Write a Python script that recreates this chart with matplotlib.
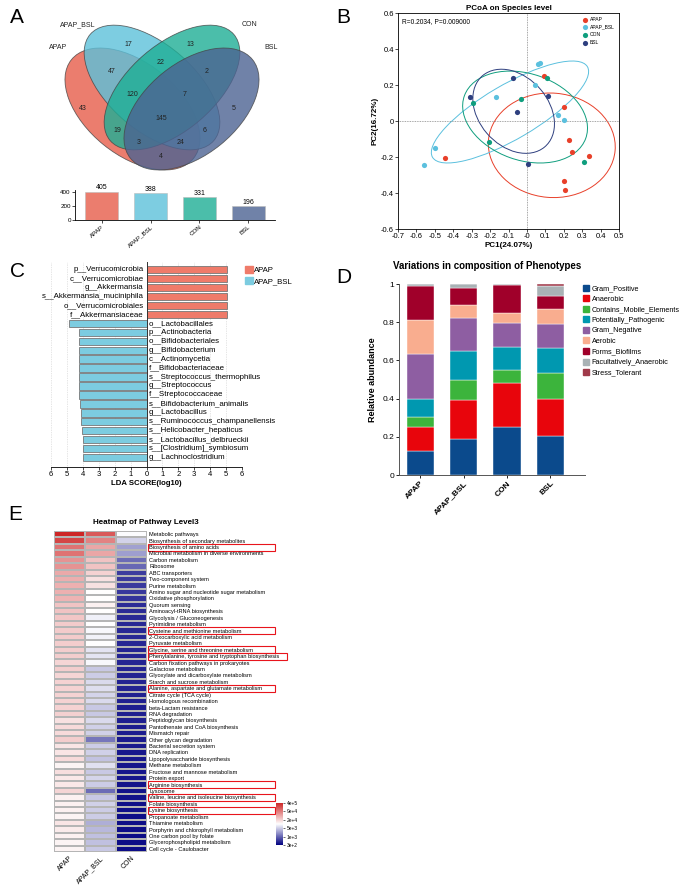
import matplotlib
matplotlib.use("Agg")
import matplotlib.pyplot as plt
import matplotlib.transforms as mtransforms
import numpy as np
from matplotlib.colors import LinearSegmentedColormap, LogNorm
from matplotlib.patches import Ellipse, Patch, Rectangle

plt.rcParams["font.family"] = ["Liberation Sans", "DejaVu Sans"]

W, H = 685, 885

# ---------------- A: Venn ----------------
venn_sets = ["APAP", "APAP_BSL", "CON", "BSL"]
venn_colors = ["#e65d4a", "#5cc1da", "#1eae95", "#4c6392"]
venn_totals = [405, 388, 331, 196]
venn_counts = [17, 13, 22, 47, 2, 120, 7, 43, 145, 5, 19, 6, 3, 24, 4]

# ---------------- B: PCoA ----------------
pcoa_groups = ["APAP", "APAP_BSL", "CON", "BSL"]
pcoa_colors = ["#e8402a", "#5bc0de", "#0f9e7e", "#2e3f7f"]
pc1_apap = [0.092, 0.199, 0.230, 0.246, 0.337, 0.199, 0.206, -0.445]
pc2_apap = [0.252, 0.076, -0.104, -0.170, -0.193, -0.333, -0.381, -0.207]
pc1_apap_bsl = [0.060, 0.069, 0.043, -0.167, 0.168, 0.199, -0.500, -0.561]
pc2_apap_bsl = [0.315, 0.320, 0.200, 0.131, 0.033, 0.006, -0.152, -0.244]
pc1_con = [0.110, -0.034, -0.293, -0.208, 0.311]
pc2_con = [0.241, 0.124, 0.100, -0.117, -0.228]
pc1_bsl = [-0.078, -0.308, 0.114, -0.056, 0.005]
pc2_bsl = [0.241, 0.135, 0.139, 0.050, -0.241]
ell_cx = [0.135, -0.092, -0.010, -0.072]
ell_cy = [-0.135, 0.050, 0.022, 0.054]
ell_w = [0.69, 0.98, 0.70, 0.52]
ell_h = [0.58, 0.30, 0.48, 0.38]
ell_angle = [-5, 31, -20, -50]

# ---------------- C: LEfSe ----------------
lda_taxa = ["p__Verrucomicrobia", "c__Verrucomicrobiae", "g__Akkermansia",
            "s__Akkermansia_muciniphila", "o__Verrucomicrobiales", "f__Akkermansiaceae",
            "o__Lactobacillales", "p__Actinobacteria", "o__Bifidobacteriales",
            "g__Bifidobacterium", "c__Actinomycetia", "f__Bifidobacteriaceae",
            "s__Streptococcus_thermophilus", "g__Streptococcus", "f__Streptococcaceae",
            "s__Bifidobacterium_animalis", "g__Lactobacillus",
            "s__Ruminococcus_champanellensis", "s__Helicobacter_hepaticus",
            "s__Lactobacillus_delbrueckii", "s__[Clostridium]_symbiosum",
            "g__Lachnoclostridium"]
lda_scores = [5.07, 5.07, 5.07, 5.07, 5.07, 5.07,
              -4.86, -4.27, -4.27, -4.27, -4.27, -4.27, -4.27, -4.23, -4.23,
              -4.15, -4.13, -4.11, -4.06, -4.02, -4.00, -4.00]

# ---------------- D: phenotypes ----------------
phen_groups = ["APAP", "APAP_BSL", "CON", "BSL"]
phen_names = ["Gram_Positive", "Anaerobic", "Contains_Mobile_Elements",
              "Potentially_Pathogenic", "Gram_Negative", "Aerobic", "Forms_Biofilms",
              "Facultatively_Anaerobic", "Stress_Tolerant"]
phen_colors = ["#0b4a8c", "#e8050c", "#3cb43c", "#0098b0", "#8e5ea2",
               "#f9ad8f", "#a0002a", "#a9b2b5", "#a03a4a"]
gram_positive = [0.124, 0.187, 0.250, 0.206]
anaerobic = [0.127, 0.206, 0.232, 0.190]
mobile_elements = [0.053, 0.106, 0.068, 0.136]
pathogenic = [0.092, 0.148, 0.122, 0.135]
gram_negative = [0.238, 0.173, 0.124, 0.124]
aerobic = [0.179, 0.070, 0.050, 0.076]
biofilms = [0.177, 0.089, 0.149, 0.068]
facultative = [0.008, 0.019, 0.003, 0.055]
stress_tolerant = [0.002, 0.002, 0.002, 0.010]

# ---------------- E: heatmap ----------------
pathways = ["Metabolic pathways", "Biosynthesis of secondary metabolites",
            "Biosynthesis of amino acids", "Microbial metabolism in diverse environments",
            "Carbon metabolism", "Ribosome", "ABC transporters", "Two-component system",
            "Purine metabolism", "Amino sugar and nucleotide sugar metabolism",
            "Oxidative phosphorylation", "Quorum sensing", "Aminoacyl-tRNA biosynthesis",
            "Glycolysis / Gluconeogenesis", "Pyrimidine metabolism",
            "Cysteine and methionine metabolism", "2-Oxocarboxylic acid metabolism",
            "Pyruvate metabolism", "Glycine, serine and threonine metabolism",
            "Phenylalanine, tyrosine and tryptophan biosynthesis",
            "Carbon fixation pathways in prokaryotes", "Galactose metabolism",
            "Glyoxylate and dicarboxylate metabolism", "Starch and sucrose metabolism",
            "Alanine, aspartate and glutamate metabolism", "Citrate cycle (TCA cycle)",
            "Homologous recombination", "beta-Lactam resistance", "RNA degradation",
            "Peptidoglycan biosynthesis", "Pantothenate and CoA biosynthesis",
            "Mismatch repair", "Other glycan degradation", "Bacterial secretion system",
            "DNA replication", "Lipopolysaccharide biosynthesis", "Methane metabolism",
            "Fructose and mannose metabolism", "Protein export", "Arginine biosynthesis",
            "Lysosome", "Valine, leucine and isoleucine biosynthesis", "Folate biosynthesis",
            "Lysine biosynthesis", "Propanoate metabolism", "Thiamine metabolism",
            "Porphyrin and chlorophyll metabolism", "One carbon pool by folate",
            "Glycerophospholipid metabolism", "Cell cycle - Caulobacter"]
heat_samples = ["APAP", "APAP_BSL", "CON"]
heat_apap = [400000, 230000, 110000, 110000, 65000, 65000, 45000, 42000, 40000, 40000,
             38000, 30000, 30000, 28000, 26000, 26000, 26000, 25000, 25000, 25000,
             22000, 25000, 22000, 23000, 23000, 23000, 23000, 23000, 24000, 18000,
             20000, 20000, 25000, 17000, 17000, 20000, 13000, 19000, 16000, 16000,
             22000, 14000, 14000, 14000, 13000, 17000, 15000, 14000, 13000, 13000]
heat_apap_bsl = [170000, 87000, 48000, 48000, 30000, 30000, 23000, 18000, 18000, 11000,
                 11000, 14000, 11000, 8900, 11000, 10000, 9000, 11000, 7600, 7400,
                 10000, 5000, 5300, 6600, 6800, 6000, 6500, 5000, 5000, 6500,
                 5600, 5600, 1600, 5300, 5600, 4700, 7000, 5000, 6000, 5300,
                 1400, 5000, 5600, 5300, 5300, 3500, 4000, 4500, 4500, 5000]
heat_con = [10500, 5800, 2900, 2800, 1400, 1300, 710, 690, 680, 660,
            640, 560, 550, 540, 540, 530, 530, 520, 510, 500,
            500, 500, 500, 490, 490, 480, 480, 470, 470, 460,
            450, 450, 440, 440, 430, 430, 420, 420, 410, 400,
            390, 390, 380, 380, 375, 375, 370, 370, 365, 360]
boxed_pathways = ["Biosynthesis of amino acids", "Cysteine and methionine metabolism",
                  "Glycine, serine and threonine metabolism",
                  "Phenylalanine, tyrosine and tryptophan biosynthesis",
                  "Alanine, aspartate and glutamate metabolism", "Arginine biosynthesis",
                  "Valine, leucine and isoleucine biosynthesis", "Lysine biosynthesis"]
cbar_labels = ["3e+2", "1e+3", "5e+3", "2e+4", "9e+4", "4e+5"]


fig = plt.figure(figsize=(W / 100, H / 100), dpi=100)


def add_ax(x0, y0, x1, y1):
    return fig.add_axes([x0 / W, 1 - y1 / H, (x1 - x0) / W, (y1 - y0) / H])


def panel_letter(x, y, s):
    fig.text(x / W, 1 - y / H, s, fontsize=15, ha="left", va="top")


# ---- A: Venn ellipses (geometry in pixel units, y pointing down) ----
ax_v = add_ax(40, 10, 300, 185)
ax_v.set_xlim(40, 300)
ax_v.set_ylim(185, 10)
ax_v.axis("off")
venn_geom = [((132.5, 109), 157, 92, 39), ((152, 87.5), 163, 86, 40.7),
             ((172, 87.5), 163, 86, -40.7), ((191.5, 109), 157, 92, -39)]
for (c, w, h, a), col in zip(venn_geom, venn_colors):
    ax_v.add_patch(Ellipse(c, w, h, angle=a, facecolor=col, alpha=0.8,
                           edgecolor="#444444", lw=0.6))
venn_label_xy = [(128, 45), (190, 45), (161, 63), (112, 72), (207, 72), (132, 95),
                 (185, 95), (83, 108), (161, 118), (234, 108), (117, 130), (205, 130),
                 (139, 143), (181, 143), (161, 156)]
for (x, y), n in zip(venn_label_xy, venn_counts):
    ax_v.text(x, y, str(n), fontsize=5, ha="center", va="center", color="#222222")
for (x, y), name in zip([(58, 48), (78, 25), (250, 25), (271, 48)], venn_sets):
    ax_v.text(x, y, name, fontsize=5, ha="center", va="center", color="#222222")

ax_vb = add_ax(75, 190, 275, 220)
xb = np.arange(len(venn_sets))
ax_vb.bar(xb, venn_totals, width=0.68, color=venn_colors, alpha=0.8,
          edgecolor="#bbbbbb", lw=0.5)
for x, v in zip(xb, venn_totals):
    ax_vb.text(x, v + 5, str(v), fontsize=5, ha="center", va="bottom")
ax_vb.set_ylim(0, 430)
ax_vb.set_xlim(-0.55, 3.55)
ax_vb.set_yticks([0, 200, 400])
ax_vb.set_xticks(xb)
ax_vb.set_xticklabels(venn_sets, rotation=40, ha="right", rotation_mode="anchor")
ax_vb.tick_params(labelsize=4.5, length=2, width=0.5, pad=1)
for s in ["top", "right"]:
    ax_vb.spines[s].set_visible(False)
for s in ["left", "bottom"]:
    ax_vb.spines[s].set_linewidth(0.6)

# ---- B: PCoA ----
ax_b = add_ax(398, 13, 619, 229)
pc1 = [pc1_apap, pc1_apap_bsl, pc1_con, pc1_bsl]
pc2 = [pc2_apap, pc2_apap_bsl, pc2_con, pc2_bsl]
ax_b.axhline(0, color="#888888", lw=0.6, ls=(0, (1, 1)))
ax_b.axvline(0, color="#888888", lw=0.6, ls=(0, (1, 1)))
for i, g in enumerate(pcoa_groups):
    ax_b.add_patch(Ellipse((ell_cx[i], ell_cy[i]), ell_w[i], ell_h[i], angle=ell_angle[i],
                           facecolor="none", edgecolor=pcoa_colors[i], lw=0.7))
    ax_b.scatter(pc1[i], pc2[i], s=14, color=pcoa_colors[i], label=g, zorder=3, lw=0)
ax_b.set_xlim(-0.7, 0.5)
ax_b.set_ylim(-0.6, 0.6)
ax_b.set_xticks(np.round(np.arange(-0.7, 0.51, 0.1), 1))
ax_b.set_yticks(np.round(np.arange(-0.6, 0.61, 0.2), 1))
ax_b.xaxis.set_major_formatter(lambda v, p: f"{v:g}")
ax_b.yaxis.set_major_formatter(lambda v, p: f"{v:g}")
ax_b.tick_params(labelsize=5.5, length=2, width=0.5, pad=1)
for s in ax_b.spines.values():
    s.set_linewidth(0.6)
ax_b.set_xlabel("PC1(24.07%)", fontsize=5.8, fontweight="bold", labelpad=1)
ax_b.set_ylabel("PC2(16.72%)", fontsize=5.8, fontweight="bold", labelpad=2)
ax_b.set_title("PCoA on Species level", fontsize=5.8, fontweight="bold", pad=2)
ax_b.text(0.02, 0.975, "R=0.2034, P=0.009000", transform=ax_b.transAxes,
          fontsize=4.8, ha="left", va="top")
ax_b.legend(loc="upper right", fontsize=3.6, frameon=False, handletextpad=0.1,
            labelspacing=0.55, borderaxespad=0.4, markerscale=1.0)

# ---- C: LEfSe LDA ----
ax_c = add_ax(51, 262, 242, 467)
yc = np.arange(len(lda_taxa))
bar_cols = ["#ef7b6a" if v > 0 else "#7ccce0" for v in lda_scores]
for g in range(-6, 7):
    ax_c.axvline(g, color="#cccccc", lw=0.5, ls=(0, (1, 1.5)), zorder=0)
ax_c.barh(yc, lda_scores, height=0.82, color=bar_cols, edgecolor="#777777", lw=0.6,
          zorder=2)
ax_c.axvline(0, color="#333333", lw=0.7, zorder=3)
for y, name, v in zip(yc, lda_taxa, lda_scores):
    if v > 0:
        ax_c.text(-0.2, y, name, fontsize=5.7, ha="right", va="center", zorder=4)
    else:
        ax_c.text(0.12, y, name, fontsize=5.7, ha="left", va="center", zorder=4)
ax_c.set_xlim(-6, 6)
ax_c.set_ylim(22.05, -0.85)
ax_c.set_yticks([])
ax_c.set_xticks(range(-6, 7))
ax_c.set_xticklabels([str(abs(v)) for v in range(-6, 7)])
ax_c.tick_params(labelsize=5.5, length=2, width=0.5, pad=1)
for s in ["top", "right", "left"]:
    ax_c.spines[s].set_visible(False)
ax_c.spines["bottom"].set_linewidth(0.6)
ax_c.set_xlabel("LDA SCORE(log10)", fontsize=5.6, fontweight="bold", labelpad=1)
fig.legend(handles=[Patch(color="#ef7b6a", label="APAP"),
                    Patch(color="#7ccce0", label="APAP_BSL")],
           loc="upper left", bbox_to_anchor=(242 / W, 1 - 263 / H), fontsize=5.6,
           frameon=False, handlelength=1.0, handleheight=1.0, handletextpad=0.15,
           labelspacing=0.35, borderaxespad=0)

# ---- D: phenotypes ----
ax_d = add_ax(399, 284, 585, 475)
phen_vals = [gram_positive, anaerobic, mobile_elements, pathogenic, gram_negative,
             aerobic, biofilms, facultative, stress_tolerant]
xd = np.arange(len(phen_groups))
bottom = np.zeros(len(phen_groups))
for name, vals, col in zip(phen_names, phen_vals, phen_colors):
    ax_d.bar(xd, vals, bottom=bottom, width=0.63, color=col, label=name,
             edgecolor="white", lw=0.3)
    bottom += np.array(vals)
ax_d.set_xlim(-0.49, 3.8)
ax_d.set_ylim(0, 1.0)
ax_d.set_yticks([0, 0.2, 0.4, 0.6, 0.8, 1.0])
ax_d.yaxis.set_major_formatter(lambda v, p: f"{v:g}")
ax_d.set_xticks(xd)
ax_d.set_xticklabels(phen_groups, rotation=45, ha="right", rotation_mode="anchor",
                     fontweight="bold")
ax_d.tick_params(labelsize=6, length=2, width=0.6, pad=1.5)
for s in ["top", "right"]:
    ax_d.spines[s].set_visible(False)
for s in ["left", "bottom"]:
    ax_d.spines[s].set_linewidth(0.7)
    ax_d.spines[s].set_color("#555555")
ax_d.set_ylabel("Relative abundance", fontsize=6.5, fontweight="bold", labelpad=4)
fig.text(487 / W, 1 - 266 / H, "Variations in composition of Phenotypes", fontsize=7,
         fontweight="bold", ha="center", va="center")
fig.legend(handles=[Patch(color=c, label=n) for n, c in zip(phen_names, phen_colors)],
           loc="upper left", bbox_to_anchor=(580 / W, 1 - 282 / H), fontsize=5.2,
           frameon=False, handlelength=0.9, handleheight=0.9, handletextpad=0.3,
           labelspacing=0.42, borderaxespad=0)

# ---- E: heatmap ----
ax_e = add_ax(54, 531, 147, 852)
heat = np.array([heat_apap, heat_apap_bsl, heat_con]).T
cmap = LinearSegmentedColormap.from_list("nwr", ["#000080", "#ffffff", "#cd2626"])
norm = LogNorm(vmin=300, vmax=400000)
mesh = ax_e.pcolormesh(heat, cmap=cmap, norm=norm, edgecolors="#b5b5b5", linewidth=0.3)
ax_e.set_ylim(len(pathways), 0)
ax_e.set_xlim(0, 3)
ax_e.set_yticks(np.arange(len(pathways)) + 0.5)
ax_e.set_yticklabels(pathways)
ax_e.yaxis.tick_right()
ax_e.set_xticks(np.arange(3) + 0.5)
ax_e.set_xticklabels(heat_samples, rotation=45, ha="right", rotation_mode="anchor")
ax_e.tick_params(axis="y", labelsize=4.1, length=0, pad=1.5)
ax_e.tick_params(axis="x", labelsize=5, length=0, pad=2)
for s in ax_e.spines.values():
    s.set_visible(False)
trans = mtransforms.blended_transform_factory(ax_e.transAxes, ax_e.transData)
for name in boxed_pathways:
    i = pathways.index(name)
    right = 2.505 if len(name) > 45 else 2.376
    ax_e.add_patch(Rectangle((1.01, i - 0.05), right - 1.01, 1.1, transform=trans,
                             fill=False, edgecolor="#e8141c", lw=0.8, clip_on=False))
fig.text(146 / W, 1 - 522 / H, "Heatmap of Pathway Level3", fontsize=5.8,
         fontweight="bold", ha="center", va="center")

cax = add_ax(276, 803, 283, 845)
cb = fig.colorbar(mesh, cax=cax)
cb.set_ticks(np.geomspace(300, 400000, 6))
cb.set_ticklabels(cbar_labels)
cb.minorticks_off()
cb.outline.set_visible(False)
cax.tick_params(labelsize=3.5, length=1.5, width=0.4, pad=1)

panel_letter(10, 8, "A")
panel_letter(336, 8, "B")
panel_letter(10, 262, "C")
panel_letter(336, 268, "D")
panel_letter(8, 505, "E")

fig.savefig("out.png", dpi=100)
